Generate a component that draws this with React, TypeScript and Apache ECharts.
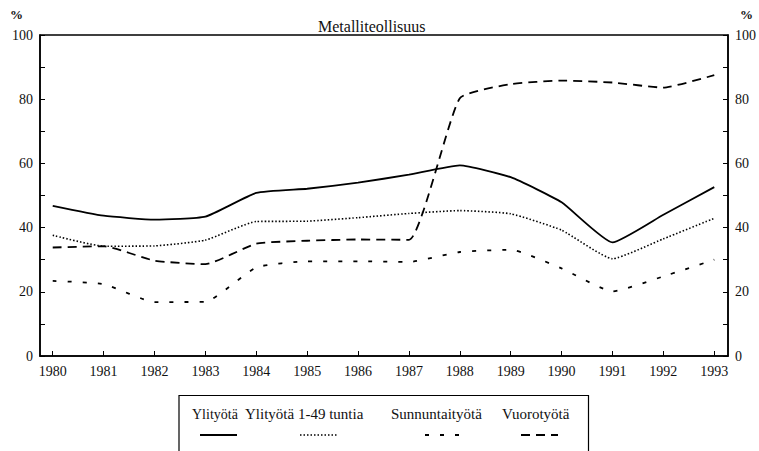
import React, { useEffect, useRef } from "react";
import * as echarts from "echarts";

const years = [1980, 1981, 1982, 1983, 1984, 1985, 1986, 1987, 1988, 1989, 1990, 1991, 1992, 1993];
const ylityota = [46.8, 43.7, 42.5, 43.4, 50.8, 52.1, 54.0, 56.5, 59.4, 55.7, 47.9, 35.4, 44.0, 52.6];
const ylityota149 = [37.6, 34.2, 34.3, 36.1, 41.9, 42.0, 43.1, 44.4, 45.3, 44.3, 39.2, 30.3, 36.5, 42.9];
const sunnuntaityota = [23.4, 22.4, 16.8, 16.9, 27.6, 29.5, 29.5, 29.3, 32.4, 33.1, 27.3, 20.1, 24.8, 30.0];
const vuorotyota = [33.8, 34.2, 29.7, 28.6, 35.0, 35.9, 36.3, 36.2, 80.3, 84.7, 85.8, 85.2, 83.6, 87.5];
const seriesNames = ["Ylityötä", "Ylityötä 1-49 tuntia", "Sunnuntaityötä", "Vuorotyötä"];
const yTicks = [0, 20, 40, 60, 80, 100];

const FONT = "Times New Roman, Liberation Serif, DejaVu Serif, serif";

export default function App() {
  const ref = useRef<HTMLDivElement>(null);
  useEffect(() => {
    document.body.style.margin = "0";
    const chart = echarts.init(ref.current!, null, { renderer: "svg" });
    const toPairs = (vals: number[]) => years.map((y, i) => [y, vals[i]]);
    const lineStyles: any[] = [
      { color: "#000", width: 1.8, type: "solid" },
      { color: "#000", width: 1.6, type: [1.5, 2] },
      { color: "#000", width: 1.8, type: [4, 11] },
      { color: "#000", width: 1.8, type: [9, 6] },
    ];
    const allData = [ylityota, ylityota149, sunnuntaityota, vuorotyota];
    const yAxisCommon = {
      type: "value",
      min: 0,
      max: 100,
      interval: 10,
      splitLine: { show: false },
      axisLine: { show: true, lineStyle: { color: "#000", width: 1.5 } },
      axisTick: { show: true, inside: true, length: 5, lineStyle: { color: "#000" } },
      axisLabel: {
        margin: 7,
        color: "#111",
        fontFamily: FONT,
        fontSize: 14,
        formatter: (v: number) => (yTicks.includes(v) ? String(v) : ""),
      },
    };
    const legendY = 435;
    const legendItems = [
      { x: 192, sx: 200, ex: 237, fs: 14 },
      { x: 245, sx: 300, ex: 338, fs: 15 },
      { x: 391, sx: 425, ex: 459, fs: 15 },
      { x: 502, sx: 521, ex: 558, fs: 15 },
    ];
    const option: any = {
      animation: false,
      backgroundColor: "#fff",
      textStyle: { fontFamily: FONT },
      title: {
        text: "Metalliteollisuus",
        left: 313,
        top: 13,
        textStyle: { fontFamily: FONT, fontSize: 16, fontWeight: "normal", color: "#111" },
      },
      grid: {
        left: 40,
        right: 31,
        top: 35,
        bottom: 95,
        show: true,
        borderColor: "#000",
        borderWidth: 1.5,
        containLabel: false,
      },
      xAxis: {
        type: "value",
        min: 1979.75,
        max: 1993.27,
        splitLine: { show: false },
        axisLine: { show: true, lineStyle: { color: "#000", width: 1.5 } },
        axisTick: { show: true, inside: true, length: 5, customValues: years, lineStyle: { color: "#000" } },
        axisLabel: {
          customValues: years,
          margin: 8,
          color: "#111",
          fontFamily: FONT,
          fontSize: 14,
          formatter: (v: number) => String(v),
        },
      },
      yAxis: [
        { ...yAxisCommon, position: "left" },
        { ...yAxisCommon, position: "right" },
      ],
      series: seriesNames.map((name, i) => ({
        name,
        type: "line",
        yAxisIndex: 0,
        data: toPairs(allData[i]),
        showSymbol: false,
        symbol: "none",
        smooth: 0.15,
        lineStyle: lineStyles[i],
      })),
      graphic: [
        {
          type: "text",
          left: 10,
          top: 8,
          style: { text: "%", fontFamily: FONT, fontSize: 13, fontWeight: "bold", fill: "#111" },
        },
        {
          type: "text",
          left: 740,
          top: 8,
          style: { text: "%", fontFamily: FONT, fontSize: 13, fontWeight: "bold", fill: "#111" },
        },
        {
          type: "polyline",
          shape: { points: [[179, 452], [179, 395.5], [588.5, 395.5], [588.5, 452]] },
          style: { stroke: "#000", lineWidth: 1.2, fill: "none" },
        },
        ...legendItems.map((l, i) => ({
          type: "text",
          x: l.x,
          y: 414,
          style: {
            text: seriesNames[i],
            fontFamily: FONT,
            fontSize: l.fs,
            fill: "#111",
            textAlign: "left",
            textVerticalAlign: "middle",
          },
        })),
        ...legendItems.map((l, i) => ({
          type: "line",
          shape: { x1: l.sx, y1: legendY, x2: l.ex, y2: legendY },
          style: {
            stroke: "#000",
            lineWidth: lineStyles[i].width,
            lineDash: lineStyles[i].type === "solid" ? null : lineStyles[i].type,
          },
        })),
      ],
    };
    chart.setOption(option);
    return () => chart.dispose();
  }, []);
  return <div ref={ref} style={{ width: 759, height: 451 }} />;
}
